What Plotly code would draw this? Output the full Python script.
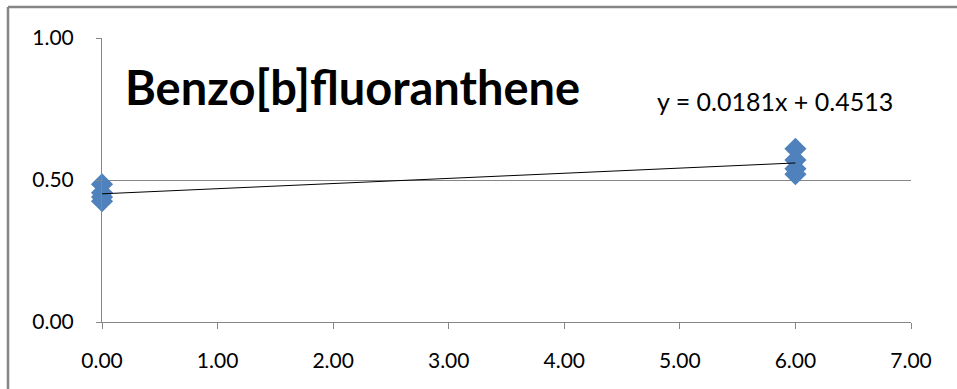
import numpy as np
import plotly.graph_objects as go

# Data
x_vals = [0, 0, 0, 0, 6, 6, 6, 6]
y_vals = [0.485, 0.455, 0.44, 0.4252, 0.61, 0.57, 0.54, 0.52]
title_text = "Benzo[b]fluoranthene"
x_ticks = [0, 1, 2, 3, 4, 5, 6, 7]
y_ticks = [0.0, 0.5, 1.0]

slope, intercept = np.polyfit(x_vals, y_vals, 1)
fit_x = [min(x_vals), max(x_vals)]
fit_y = [slope * v + intercept for v in fit_x]
eq_text = f"y = {slope:.4f}x + {intercept:.4f}"

GRAY = "#868686"
FONT = "Lato, Carlito, Calibri, sans-serif"

fig = go.Figure()
fig.add_trace(go.Scatter(
    x=x_vals, y=y_vals, mode="markers",
    marker=dict(symbol="diamond", size=17, color="#4F81BD"),
    showlegend=False, hoverinfo="skip", cliponaxis=False,
))
fig.add_trace(go.Scatter(
    x=fit_x, y=fit_y, mode="lines",
    line=dict(color="black", width=1),
    showlegend=False, hoverinfo="skip", cliponaxis=False,
))

fig.update_layout(
    width=957, height=389,
    margin=dict(l=102, r=46, t=38, b=67),
    paper_bgcolor="white", plot_bgcolor="white",
    font=dict(family=FONT, size=21, color="black"),
    xaxis=dict(
        range=[0, 7], tickvals=x_ticks, ticktext=[f"{v:.2f}" for v in x_ticks],
        showgrid=False, zeroline=False, showline=True, linecolor=GRAY, linewidth=1,
        ticks="outside", ticklen=6, tickcolor=GRAY, ticklabelstandoff=14,
        fixedrange=True,
    ),
    yaxis=dict(
        range=[0, 1], tickvals=y_ticks, ticktext=[f"{v:.2f}" for v in y_ticks],
        showgrid=True, gridcolor=GRAY, gridwidth=1, zeroline=False,
        showline=True, linecolor=GRAY, linewidth=1,
        ticks="outside", ticklen=5, tickcolor=GRAY, ticklabelstandoff=18,
        fixedrange=True,
    ),
    annotations=[
        dict(text=f"<b>{title_text}</b>", xref="paper", yref="paper",
             x=(123 - 102) / 809, y=1 - (87 - 38) / 284, xanchor="left", yanchor="middle",
             showarrow=False, font=dict(family=FONT, size=47, color="black")),
        dict(text=eq_text, xref="paper", yref="paper",
             x=(655 - 102) / 809, y=1 - (101 - 38) / 284, xanchor="left", yanchor="middle",
             showarrow=False, font=dict(family=FONT, size=25, color="black")),
    ],
    shapes=[
        dict(type="line", xref="paper", yref="paper",
             x0=(8 - 102) / 809, x1=(960 - 102) / 809,
             y0=1 + (38 - 7) / 284, y1=1 + (38 - 7) / 284,
             line=dict(color=GRAY, width=2.5)),
        dict(type="line", xref="paper", yref="paper",
             x0=(8 - 102) / 809, x1=(8 - 102) / 809,
             y0=1 + (38 - 7) / 284, y1=-(392 - 322) / 284,
             line=dict(color=GRAY, width=2.5)),
    ],
)

fig.write_html("out.html")
